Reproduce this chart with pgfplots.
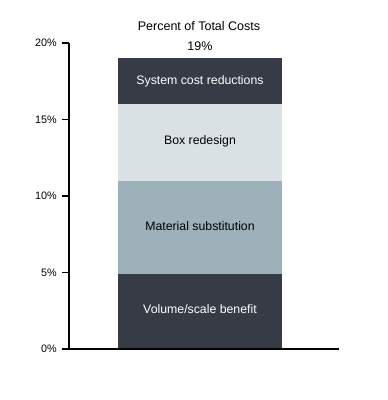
\documentclass[border=0pt]{standalone}
\usepackage{pgfplots}
\pgfplotsset{compat=1.18}
\usepackage{fontspec}
\setmainfont{Liberation Sans}
\definecolor{cdark}{RGB}{54,59,69}
\definecolor{cmid}{RGB}{157,177,187}
\definecolor{clight}{RGB}{218,225,228}
\begin{document}
\begin{tikzpicture}
\path[use as bounding box] (-69pt,-51pt) rectangle (319pt,349pt);
\begin{axis}[
  at={(0pt,0pt)}, anchor=south west,
  scale only axis, width=270pt, height=306pt,
  xmin=0, xmax=270, ymin=0, ymax=20,
  axis x line=bottom, axis y line=left,
  axis line style={-, line width=1.3pt, black},
  axis on top=true,
  xtick=\empty, ytick={0,5,10,15,20},
  yticklabel={\pgfmathprintnumber{\tick}\%},
  /pgf/number format/assume math mode=true,
  tick style={black, line width=1.3pt},
  major tick length=7pt, tick align=outside,
  yticklabel style={font=\fontsize{10.8}{12}\selectfont, inner sep=0pt, xshift=-5pt},
  ybar stacked, bar width=164pt,
  clip=false,
]
\addplot[fill=cdark, draw=none] coordinates {(131,4.9)};
\addplot[fill=cmid, draw=none] coordinates {(131,6.1)};
\addplot[fill=clight, draw=none] coordinates {(131,5)};
\addplot[fill=cdark, draw=none] coordinates {(131,3)};
\coordinate (l4) at (axis cs:131,17.5);
\coordinate (l3) at (axis cs:131,13.6);
\coordinate (l2) at (axis cs:131,8.05);
\coordinate (l1) at (axis cs:131,2.6);
\end{axis}
\node[white, font=\fontsize{12.3}{14}\selectfont] at (l4) {System cost reductions};
\node[black, font=\fontsize{12.3}{14}\selectfont] at (l3) {Box redesign};
\node[black, font=\fontsize{12.3}{14}\selectfont] at (l2) {Material substitution};
\node[white, font=\fontsize{12.3}{14}\selectfont] at (l1) {Volume/scale benefit};
\node[font=\fontsize{12.5}{14}\selectfont] at (130pt,323pt) {Percent of Total Costs};
\node[font=\fontsize{12.5}{14}\selectfont] at (131pt,303pt) {19\%};
\end{tikzpicture}
\end{document}
